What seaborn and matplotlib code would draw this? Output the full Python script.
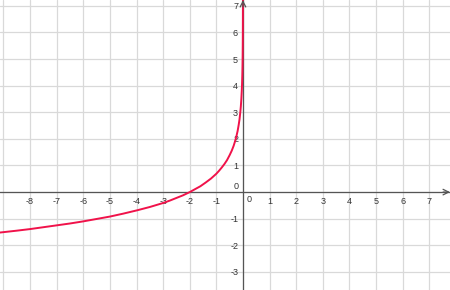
import matplotlib
matplotlib.use("Agg")
import matplotlib.pyplot as plt
import seaborn as sns
import pandas as pd

# values
curve_x = [-9.13, -8.5, -8.0, -7.5, -7.0, -6.5, -6.0, -5.5, -5.0, -4.5, -4.0, -3.5, -3.0,
           -2.75, -2.5, -2.25, -2.0, -1.8, -1.6, -1.4, -1.2, -1.0, -0.9, -0.8, -0.7,
           -0.6, -0.5, -0.42, -0.35, -0.3, -0.25, -0.2, -0.16, -0.13, -0.1, -0.08,
           -0.06, -0.045, -0.035, -0.025, -0.018, -0.012, -0.008, -0.005, -0.003, -0.0015]
curve_y = [-1.52, -1.45, -1.39, -1.32, -1.25, -1.18, -1.10, -1.01, -0.92, -0.81, -0.69,
           -0.56, -0.41, -0.32, -0.22, -0.12, 0.00, 0.11, 0.22, 0.36, 0.51, 0.69, 0.80,
           0.92, 1.05, 1.20, 1.39, 1.56, 1.74, 1.90, 2.08, 2.30, 2.53, 2.73, 3.00, 3.22,
           3.51, 3.80, 4.04, 4.38, 4.71, 5.12, 5.52, 5.99, 6.50, 7.20]

x_ticks = [-8, -7, -6, -5, -4, -3, -2, -1, 1, 2, 3, 4, 5, 6, 7]
y_ticks = [-3, -2, -1, 1, 2, 3, 4, 5, 6, 7]
grid_x = list(range(-9, 8))
grid_y = list(range(-3, 8))

df = pd.DataFrame({"x": curve_x, "y": curve_y})

sns.set_style("white")
plt.rcParams["font.family"] = ["Liberation Sans", "DejaVu Sans"]
fig = plt.figure(figsize=(4.5, 2.9), dpi=100)
ax = fig.add_axes([0, 0, 1, 1])
ax.set_xlim(-9.13, 7.78)
ax.set_ylim(-3.68, 7.22)

for g in grid_x:
    ax.axvline(g, color="#d9d9d9", lw=0.9, zorder=0)
for g in grid_y:
    ax.axhline(g, color="#d9d9d9", lw=0.9, zorder=0)

sns.lineplot(data=df, x="x", y="y", estimator=None, sort=False,
             color="#f0124a", lw=1.4, ax=ax, zorder=3)

ax.spines["left"].set_position(("data", 0))
ax.spines["bottom"].set_position(("data", 0))
ax.spines["right"].set_visible(False)
ax.spines["top"].set_visible(False)
for s in ("left", "bottom"):
    ax.spines[s].set_color("#555555")
    ax.spines[s].set_linewidth(0.9)

ax.set_xticks(x_ticks)
ax.set_xticklabels([str(t) for t in x_ticks])
ax.set_yticks(y_ticks)
ax.set_yticklabels([str(t) for t in y_ticks])
ax.tick_params(axis="both", direction="out", length=2, width=0.8, color="#555555",
               labelsize=6.5, labelcolor="#333333", pad=1.5)
ax.set_xlabel("")
ax.set_ylabel("")

ax.text(0.12, -0.1, "0", fontsize=6.5, color="#333333", ha="left", va="top")
ax.text(-0.15, 0.05, "0", fontsize=6.5, color="#333333", ha="right", va="bottom")

ax.annotate("", xy=(1, 0), xycoords=("axes fraction", "data"),
            xytext=(-5, 0), textcoords="offset points",
            arrowprops=dict(arrowstyle="->", color="#555555", lw=0.9,
                            shrinkA=0, shrinkB=0))
ax.annotate("", xy=(0, 1), xycoords=("data", "axes fraction"),
            xytext=(0, -5), textcoords="offset points",
            arrowprops=dict(arrowstyle="->", color="#555555", lw=0.9,
                            shrinkA=0, shrinkB=0))

fig.savefig("out.png", dpi=100)
